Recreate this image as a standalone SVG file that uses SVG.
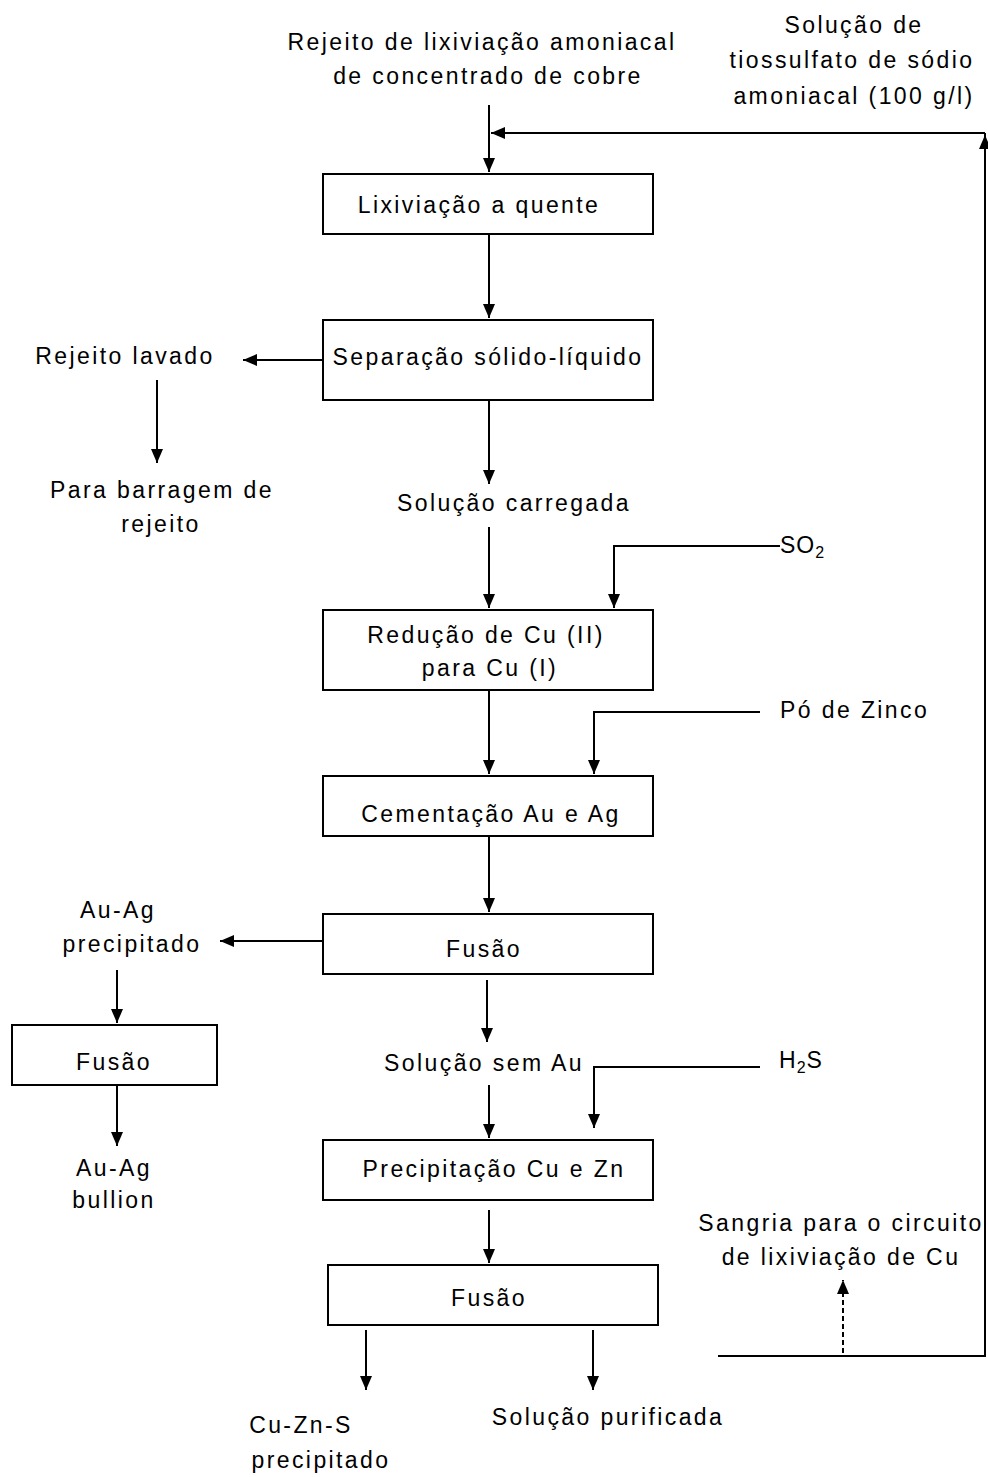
<svg xmlns="http://www.w3.org/2000/svg" width="988" height="1477" viewBox="0 0 988 1477">
<style>
text{font-family:"Liberation Sans",Arial,sans-serif;font-size:23px;fill:#000;letter-spacing:2.4px}
.m{text-anchor:middle}
.box{fill:#fff;stroke:#000;stroke-width:2}
.ln{fill:none;stroke:#000;stroke-width:2}
.dash{fill:none;stroke:#000;stroke-width:2;stroke-dasharray:5,3}
</style>
<defs>
<marker id="ah" viewBox="0 0 14 12" refX="14" refY="6" markerWidth="14" markerHeight="12" markerUnits="userSpaceOnUse" orient="auto">
<path d="M0,0 L14,6 L0,12 Z" fill="#000"/>
</marker>
</defs>
<rect width="988" height="1477" fill="#fff"/>
<g id="connectors">
<path class="ln" d="M489,105 V172" marker-end="url(#ah)"/>
<path class="ln" d="M718,1356 H985 V133"/>
<path class="ln" d="M985,160 V135" marker-end="url(#ah)"/>
<path class="ln" d="M985,133 H491" marker-end="url(#ah)"/>
<path class="dash" d="M843,1353 V1280" marker-end="url(#ah)"/>
<path class="ln" d="M489,234 V318" marker-end="url(#ah)"/>
<path class="ln" d="M323,360 H243" marker-end="url(#ah)"/>
<path class="ln" d="M157,380 V463" marker-end="url(#ah)"/>
<path class="ln" d="M489,400 V484" marker-end="url(#ah)"/>
<path class="ln" d="M489,527 V608" marker-end="url(#ah)"/>
<path class="ln" d="M780,546 H614 V608" marker-end="url(#ah)"/>
<path class="ln" d="M489,690 V774" marker-end="url(#ah)"/>
<path class="ln" d="M760,712 H594 V774" marker-end="url(#ah)"/>
<path class="ln" d="M489,836 V912" marker-end="url(#ah)"/>
<path class="ln" d="M323,941 H220" marker-end="url(#ah)"/>
<path class="ln" d="M117,970 V1023" marker-end="url(#ah)"/>
<path class="ln" d="M117,1085 V1146" marker-end="url(#ah)"/>
<path class="ln" d="M487,980 V1042" marker-end="url(#ah)"/>
<path class="ln" d="M489,1085 V1138" marker-end="url(#ah)"/>
<path class="ln" d="M760,1067 H594 V1128" marker-end="url(#ah)"/>
<path class="ln" d="M489,1210 V1263" marker-end="url(#ah)"/>
<path class="ln" d="M366,1330 V1390" marker-end="url(#ah)"/>
<path class="ln" d="M593,1330 V1390" marker-end="url(#ah)"/>
</g>
<g id="n1"><rect class="box" x="323" y="174" width="330" height="60"/><text class="m" x="479" y="213">Lixiviação a quente</text></g>
<g id="n2"><rect class="box" x="323" y="320" width="330" height="80"/><text class="m" x="488" y="365">Separação sólido-líquido</text></g>
<g id="n3"><rect class="box" x="323" y="610" width="330" height="80"/><text class="m" x="486" y="643">Redução de Cu (II)</text><text class="m" x="490" y="676">para Cu (I)</text></g>
<g id="n4"><rect class="box" x="323" y="776" width="330" height="60"/><text class="m" x="491" y="822">Cementação Au e Ag</text></g>
<g id="n5"><rect class="box" x="323" y="914" width="330" height="60"/><text class="m" x="484" y="957">Fusão</text></g>
<g id="n6"><rect class="box" x="323" y="1140" width="330" height="60"/><text class="m" x="494" y="1177">Precipitação Cu e Zn</text></g>
<g id="n7"><rect class="box" x="328" y="1265" width="330" height="60"/><text class="m" x="489" y="1306">Fusão</text></g>
<g id="n8"><rect class="box" x="12" y="1025" width="205" height="60"/><text class="m" x="114" y="1070">Fusão</text></g>
<g id="labels">
<text class="m" x="482" y="50">Rejeito de lixiviação amoniacal</text>
<text class="m" x="488" y="84">de concentrado de cobre</text>
<text class="m" x="854" y="33">Solução de</text>
<text class="m" x="852" y="68">tiossulfato de sódio</text>
<text class="m" x="854" y="104">amoniacal (100 g/l)</text>
<text class="m" x="125" y="364">Rejeito lavado</text>
<text class="m" x="162" y="498">Para barragem de</text>
<text class="m" x="161" y="532">rejeito</text>
<text class="m" x="514" y="511">Solução carregada</text>
<text x="780" y="553" style="letter-spacing:1px">SO<tspan font-size="16" dy="5">2</tspan></text>
<text x="780" y="718">Pó de Zinco</text>
<text class="m" x="118" y="918">Au-Ag</text>
<text class="m" x="132" y="952">precipitado</text>
<text class="m" x="484" y="1071">Solução sem Au</text>
<text x="779" y="1068" style="letter-spacing:1px">H<tspan font-size="16" dy="5">2</tspan><tspan dy="-5">S</tspan></text>
<text class="m" x="114" y="1176">Au-Ag</text>
<text class="m" x="114" y="1208">bullion</text>
<text class="m" x="841" y="1231">Sangria para o circuito</text>
<text class="m" x="841" y="1265">de lixiviação de Cu</text>
<text class="m" x="301" y="1433">Cu-Zn-S</text>
<text class="m" x="321" y="1468">precipitado</text>
<text class="m" x="608" y="1425">Solução purificada</text>
</g>
</svg>
